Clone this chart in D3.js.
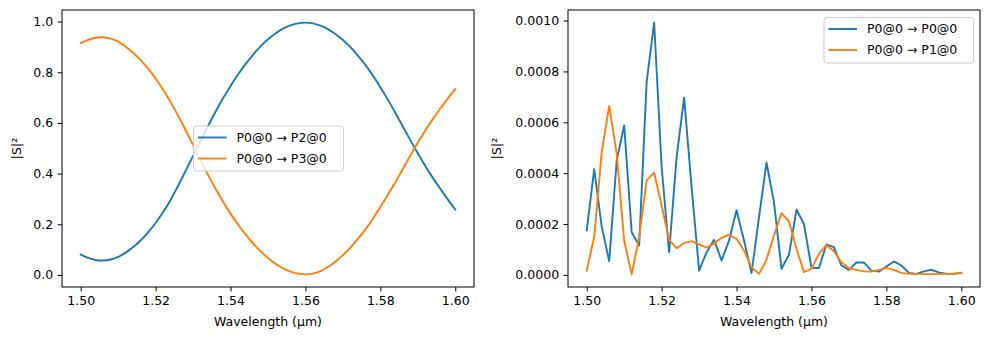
<!DOCTYPE html>
<html>
<head>
<meta charset="utf-8">
<script src="https://cdn.jsdelivr.net/npm/d3@7"></script>
<style>
  html, body { margin: 0; padding: 0; background: #fff; }
  svg { display: block; }
  text { font-family: "DejaVu Sans", sans-serif; fill: #000; }
</style>
</head>
<body>
<svg id="chart" width="989" height="340"></svg>
<script>
// ---------- data ----------
const wavelengths = d3.range(51).map(i => +(1.5 + i * 0.002).toFixed(3));

const s_P2 = [0.080, 0.067, 0.059, 0.057, 0.061, 0.071, 0.088, 0.110, 0.136, 0.168,
  0.205, 0.248, 0.296, 0.352, 0.410, 0.470, 0.530, 0.588, 0.644, 0.697,
  0.746, 0.791, 0.832, 0.869, 0.902, 0.930, 0.953, 0.972, 0.985, 0.993,
  0.996, 0.993, 0.984, 0.970, 0.951, 0.927, 0.899, 0.866, 0.829, 0.787,
  0.741, 0.692, 0.640, 0.586, 0.532, 0.480, 0.430, 0.383, 0.340, 0.298, 0.258];

const s_P3 = [0.915, 0.928, 0.936, 0.938, 0.933, 0.921, 0.901, 0.877, 0.848, 0.814,
  0.775, 0.731, 0.682, 0.628, 0.571, 0.512, 0.453, 0.395, 0.340, 0.289,
  0.242, 0.199, 0.160, 0.125, 0.094, 0.067, 0.044, 0.026, 0.013, 0.005,
  0.002, 0.005, 0.015, 0.031, 0.052, 0.078, 0.108, 0.142, 0.180, 0.221,
  0.268, 0.316, 0.366, 0.418, 0.471, 0.522, 0.570, 0.615, 0.657, 0.696, 0.733];

const s_P0 = [0.000175, 0.000416, 0.000190, 0.000054, 0.000450, 0.000588, 0.000168, 0.000116, 0.000759, 0.000992,
  0.000424, 0.000089, 0.000463, 0.000697, 0.000345, 0.000017, 0.000089, 0.000138, 0.000057, 0.000135,
  0.000254, 0.000135, 0.000007, 0.000227, 0.000441, 0.000285, 0.000024, 0.000079, 0.000257, 0.000200,
  0.000028, 0.000027, 0.000120, 0.000109, 0.000037, 0.000020, 0.000049, 0.000049, 0.000017, 0.000013,
  0.000033, 0.000053, 0.000037, 0.000008, 0.000004, 0.000014, 0.000020, 0.000010, 0.000004, 0.000004, 0.000008];

const s_P1 = [0.000017, 0.000150, 0.000483, 0.000664, 0.000477, 0.000135, 0.000002, 0.000148, 0.000372, 0.000402,
  0.000273, 0.000138, 0.000105, 0.000125, 0.000133, 0.000120, 0.000107, 0.000124, 0.000146, 0.000158,
  0.000142, 0.000096, 0.000030, 0.000004, 0.000060, 0.000155, 0.000243, 0.000210, 0.000103, 0.000011,
  0.000024, 0.000083, 0.000118, 0.000093, 0.000050, 0.000026, 0.000020, 0.000014, 0.000013, 0.000020,
  0.000028, 0.000020, 0.000008, 0.000004, 0.000004, 0.000003, 0.000003, 0.000003, 0.000004, 0.000005, 0.000008];

const xTicks = [1.50, 1.52, 1.54, 1.56, 1.58, 1.60];
const yTicksLeft = [0.0, 0.2, 0.4, 0.6, 0.8, 1.0];
const yTicksRight = [0.0000, 0.0002, 0.0004, 0.0006, 0.0008, 0.0010];

const leftSeries = [
  { name: "P0@0 \u2192 P2@0", values: s_P2, color: "#1f77b4" },
  { name: "P0@0 \u2192 P3@0", values: s_P3, color: "#ff7f0e" }
];
const rightSeries = [
  { name: "P0@0 \u2192 P0@0", values: s_P0, color: "#1f77b4" },
  { name: "P0@0 \u2192 P1@0", values: s_P1, color: "#ff7f0e" }
];

// ---------- drawing ----------
const svg = d3.select("#chart");
const FS = 12.5;

function padded(lo, hi) { const m = (hi - lo) * 0.05; return [lo - m, hi + m]; }

function panel(cfg) {
  const { left, right, top, bottom, series, yTicks, yFmt, ylabelX, legend, smooth } = cfg;
  const g = svg.append("g");
  const xExt = d3.extent(wavelengths);
  const allY = series.flatMap(s => s.values);
  const x = d3.scaleLinear().domain(padded(xExt[0], xExt[1])).range([left, right]);
  const y = d3.scaleLinear().domain(padded(d3.min(allY), d3.max(allY))).range([bottom, top]);

  const line = d3.line().x((d, i) => x(wavelengths[i])).y(d => y(d))
    .curve(smooth ? d3.curveCatmullRom.alpha(0.5) : d3.curveLinear);
  series.forEach(s => {
    g.append("path").datum(s.values)
      .attr("d", line).attr("fill", "none")
      .attr("stroke", s.color).attr("stroke-width", 1.9)
      .attr("stroke-linejoin", "round").attr("stroke-linecap", "square");
  });

  // axes
  const xAxis = d3.axisBottom(x).tickValues(xTicks).tickFormat(d3.format(".2f")).tickSize(4.4).tickPadding(4.5);
  const gx = g.append("g").attr("transform", `translate(0,${bottom})`).call(xAxis);
  const yAxis = d3.axisLeft(y).tickValues(yTicks).tickFormat(yFmt).tickSize(4.4).tickPadding(4.5);
  const gy = g.append("g").attr("transform", `translate(${left},0)`).call(yAxis);
  [gx, gy].forEach(a => {
    a.select(".domain").remove();
    a.selectAll(".tick line").attr("stroke", "#000").attr("stroke-width", 1);
    a.selectAll(".tick text").attr("font-size", FS).attr("font-family", "DejaVu Sans").attr("fill", "#000");
  });

  // frame
  g.append("rect").attr("x", left).attr("y", top).attr("width", right - left).attr("height", bottom - top)
    .attr("fill", "none").attr("stroke", "#000").attr("stroke-width", 1);

  // labels
  g.append("text").attr("x", (left + right) / 2).attr("y", 326)
    .attr("text-anchor", "middle").attr("font-size", FS).text("Wavelength (\u00b5m)");
  g.append("text").attr("transform", `translate(${ylabelX},${(top + bottom) / 2}) rotate(-90)`)
    .attr("text-anchor", "middle").attr("font-size", FS).text("|S|\u00b2");

  // legend
  const lg = g.append("g");
  lg.append("rect").attr("x", legend.x).attr("y", legend.y).attr("width", legend.w).attr("height", legend.h)
    .attr("rx", 3).attr("fill", "#fff").attr("fill-opacity", 0.8)
    .attr("stroke", "#cccccc").attr("stroke-width", 1);
  series.forEach((s, i) => {
    const cy = legend.y + 11.5 + i * 21;
    lg.append("line").attr("x1", legend.x + 4.5).attr("x2", legend.x + 33)
      .attr("y1", cy).attr("y2", cy).attr("stroke", s.color).attr("stroke-width", 1.9);
    lg.append("text").attr("x", legend.x + 43).attr("y", cy).attr("dy", "0.35em")
      .attr("font-size", FS).text(s.name);
  });
}

panel({
  left: 62, right: 474, top: 10, bottom: 287, smooth: true,
  series: leftSeries, yTicks: yTicksLeft, yFmt: d3.format(".1f"), ylabelX: 21,
  legend: { x: 193.5, y: 126, w: 150, h: 45 }
});
panel({
  left: 568, right: 980, top: 10, bottom: 287, smooth: false,
  series: rightSeries, yTicks: yTicksRight, yFmt: d3.format(".4f"), ylabelX: 501,
  legend: { x: 824, y: 17.5, w: 149.5, h: 45.5 }
});
</script>
</body>
</html>
